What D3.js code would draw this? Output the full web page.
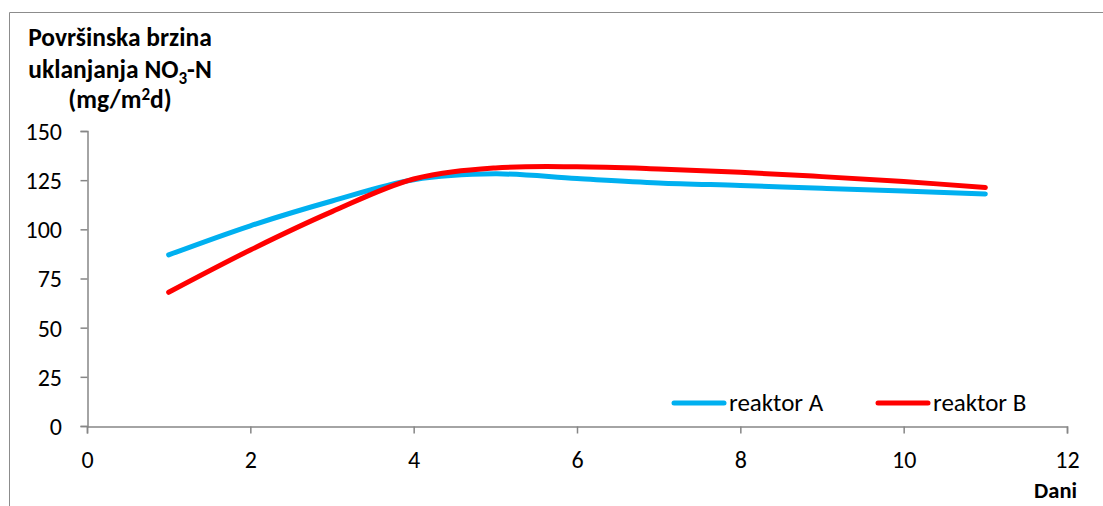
<!DOCTYPE html>
<html><head><meta charset="utf-8">
<script src="https://cdn.jsdelivr.net/npm/d3@7"></script>
<style>
body{margin:0;background:#fff;}
text{font-family:Carlito, Calibri, Lato, "Open Sans", sans-serif;}
</style></head>
<body><svg id="c" width="1103" height="506"></svg>
<script>
const days = [1,2,3,4,5,6,7,8,9,10,11];
const reaktorA = [87,101.8,114.4,125.2,128.2,125.8,123.6,122.3,120.9,119.5,118];
const reaktorB = [68,89.5,109,125.6,131.2,131.8,130.7,129,126.8,124.3,121.3];
const xTicks = [0,2,4,6,8,10,12];
const yTicks = [0,25,50,75,100,125,150];
const seriesNames = ["reaktor A","reaktor B"];
const colors = ["#00B0F0","#FF0000"];

const FONT = "Carlito, Calibri, Lato, sans-serif";
const svg = d3.select("#c");
// outer frame
svg.append("path").attr("d","M9.5,506 L9.5,12.5 L1103,12.5").attr("fill","none").attr("stroke","#8c8c8c").attr("stroke-width",1);

const x = d3.scaleLinear().domain([0,12]).range([87,1067]);
const y = d3.scaleLinear().domain([0,150]).range([426,131]);

const axisCol = "#868686";
const gx = svg.append("g").attr("transform","translate(0,426.5)")
  .call(d3.axisBottom(x).tickValues(xTicks).tickSize(7).tickFormat(d3.format("d")));
const gy = svg.append("g").attr("transform","translate(87.5,0)")
  .call(d3.axisLeft(y).tickValues(yTicks).tickSize(7).tickFormat(d3.format("d")));
[gx,gy].forEach(g=>{
  g.select(".domain").attr("stroke",axisCol).attr("stroke-width",1.5);
  g.selectAll(".tick line").attr("stroke",axisCol).attr("stroke-width",1.5);
  g.selectAll(".tick text").attr("fill","#000").style("font-size","24px").style("font-family",FONT);
});
gx.selectAll(".tick text").attr("y",41).attr("dy",0);
gy.selectAll(".tick text").attr("x",-25.5).attr("dy","0.35em");

const line = d3.line().x((d,i)=>x(days[i])).y(d=>y(d)).curve(d3.curveCatmullRom.alpha(0.5));
[reaktorA,reaktorB].forEach((s,k)=>{
  svg.append("path").datum(s).attr("d",line).attr("fill","none")
    .attr("stroke",colors[k]).attr("stroke-width",5).attr("stroke-linecap","round").attr("stroke-linejoin","round");
});

// title
const t = svg.append("text").attr("text-anchor","middle").attr("font-weight","bold").style("font-size","25.5px").attr("fill","#000");
t.append("tspan").attr("x",120).attr("y",46).text("Površinska brzina");
const l2 = t.append("tspan").attr("x",120).attr("y",78);
l2.append("tspan").text("uklanjanja NO");
l2.append("tspan").attr("dy",6).style("font-size","17px").text("3");
l2.append("tspan").attr("dy",-6).text("-N");
const l3 = t.append("tspan").attr("x",120).attr("y",108);
l3.append("tspan").text("(mg/m");
l3.append("tspan").attr("dy",-8).style("font-size","17px").text("2");
l3.append("tspan").attr("dy",8).text("d)");

// x-axis title
svg.append("text").attr("x",1077).attr("y",498).attr("text-anchor","end").attr("font-weight","bold").style("font-size","22.5px").text("Dani");

// legend
const legX = [672,876];
seriesNames.forEach((n,k)=>{
  svg.append("line").attr("x1",legX[k]+2).attr("x2",legX[k]+52).attr("y1",403).attr("y2",403)
    .attr("stroke",colors[k]).attr("stroke-width",5).attr("stroke-linecap","round");
  svg.append("text").attr("x",legX[k]+57).attr("y",411).style("font-size","25px").text(n);
});
</script></body></html>
